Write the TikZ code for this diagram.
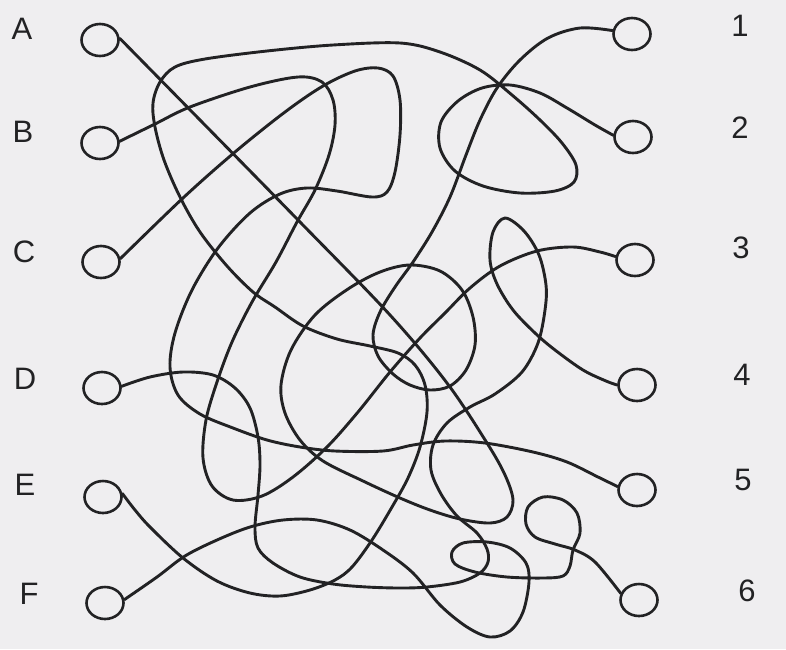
\documentclass[tikz,border=0pt]{standalone}
\usepackage{fontspec}
\setmainfont{Liberation Sans}
\usetikzlibrary{shapes.geometric}
\definecolor{paper}{RGB}{239,238,240}
\definecolor{ink}{RGB}{34,34,36}

\begin{document}
\begin{tikzpicture}[x=0.5pt, y=-0.5pt,
    port/.style={ellipse, draw=ink, line width=1.3pt, minimum width=18.5pt, minimum height=16pt, inner sep=0pt},
    lbl/.style={font=\fontsize{15.5}{17}\selectfont, text=ink},
    wire/.style={draw=ink, line width=1.45pt, line join=round, line cap=round}]
    \fill[paper] (0,0) rectangle (786,649);
    \useasboundingbox (0,0) rectangle (786,649);

    % Left column
    \node[port] (A) at (100,40) {};
    \node[port] (B) at (100,143) {};
    \node[port] (C) at (101,262) {};
    \node[port] (D) at (102,388) {};
    \node[port] (E) at (103,497) {};
    \node[port] (F) at (105,603) {};
    \node[lbl] (lA) at (22,29) {A};
    \node[lbl] (lB) at (23,132) {B};
    \node[lbl] (lC) at (24,252) {C};
    \node[lbl] (lD) at (25,379) {D};
    \node[lbl] (lE) at (25,485) {E};
    \node[lbl] (lF) at (29,594) {F};

    % Right column
    \node[port] (n1) at (632,34) {};
    \node[port] (n2) at (633,137) {};
    \node[port] (n3) at (635,260) {};
    \node[port] (n4) at (637,385) {};
    \node[port] (n5) at (637,490) {};
    \node[port] (n6) at (639,600) {};
    \node[lbl] (l1) at (740,26) {1};
    \node[lbl] (l2) at (740,128) {2};
    \node[lbl] (l3) at (741,248) {3};
    \node[lbl] (l4) at (742,375) {4};
    \node[lbl] (l5) at (743,480) {5};
    \node[lbl] (l6) at (747,591) {6};

    % A to 1
    \draw[wire] plot[smooth, tension=0.55] coordinates {(A.5) (200,120) (300,222) (390,315) (447,383)
        (487,443) (505,475) (513,500) (507,517) (490,523) (460,519) (430,510) (400,498) (363,481)
        (323,461) (300,440) (285,413) (281,385) (291,350) (315,315) (348,289) (380,272) (410,265)
        (440,271) (462,290) (473,317) (475,345) (466,370) (450,386) (430,390) (410,385) (393,374)
        (378,356) (373,335) (380,312) (395,287) (413,262) (432,232) (450,197) (466,155) (480,120)
        (497,88) (520,60) (548,38) (580,28) (n1.170)};

    % B to 3
    \draw[wire] plot[smooth, tension=0.55] coordinates {(B.5) (155,124) (190,107) (250,87) (298,77)
        (322,82) (333,100) (335,125) (329,155) (315,190) (297,222) (276,262) (252,302) (232,342)
        (217,382) (206,420) (203,458) (212,486) (233,500) (262,496) (293,477) (327,447) (358,412)
        (390,372) (420,338) (445,313) (470,288) (500,266) (537,251) (573,247) (600,252) (n3.170)};

    % C to 5
    \draw[wire] plot[smooth, tension=0.55] coordinates {(C.10) (183,198) (235,152) (285,112) (323,86)
        (355,71) (378,68) (393,76) (400,100) (400,135) (395,172) (387,192) (372,197) (337,191)
        (307,188) (280,194) (250,213) (218,248) (192,290) (175,333) (170,367) (178,395) (200,414)
        (233,428) (267,440) (300,447) (335,451) (383,451) (413,445) (445,441) (485,443) (533,452)
        (567,462) (598,477) (n5.170)};

    % D to 4
    \draw[wire] plot[smooth, tension=0.55] coordinates {(D.5) (150,377) (183,372) (213,375) (235,388)
        (250,408) (258,437) (260,465) (258,495) (255,527) (258,548) (273,563) (300,577) (333,584)
        (367,587) (400,588) (427,587) (460,582) (480,573) (488,562) (487,549) (477,533) (457,516)
        (441,494) (431,470) (433,445) (447,423) (470,407) (495,394) (522,372) (538,343) (545,310)
        (546,285) (539,255) (524,231) (505,218) (493,232) (490,260) (497,284) (513,310) (535,333)
        (555,350) (583,370) (606,381) (n4.180)};

    % E to 2
    \draw[wire] plot[smooth, tension=0.55] coordinates {(E.10) (135,510) (150,527) (183,558) (217,581)
        (250,593) (280,596) (310,590) (335,580) (352,567) (372,540) (392,507) (408,478) (420,447)
        (427,412) (425,385) (415,365) (398,353) (370,346) (337,339) (303,326) (275,307) (253,292)
        (227,266) (200,232) (180,197) (164,160) (155,127) (153,103) (160,82) (175,67) (205,59)
        (267,51) (333,45) (400,43) (440,52) (480,70) (512,95) (540,120) (562,143) (576,165)
        (574,182) (555,191) (520,193) (483,186) (455,171) (440,148) (441,122) (458,101) (482,88)
        (510,85) (540,93) (567,108) (595,125) (n2.175)};

    % F to 6
    \draw[wire] plot[smooth, tension=0.55] coordinates {(F.10) (157,577) (185,556) (217,540) (250,527)
        (283,520) (317,520) (350,530) (383,550) (413,573) (440,605) (467,627) (490,637) (510,631)
        (523,612) (529,582) (526,563) (510,548) (487,542) (463,543) (452,552) (455,564) (475,572)
        (507,577) (543,578) (563,576) (570,566) (573,550) (580,533) (577,513) (563,500) (543,497)
        (528,507) (526,524) (535,537) (555,544) (575,550) (595,562) (n6.160)};
\end{tikzpicture}
\end{document}
